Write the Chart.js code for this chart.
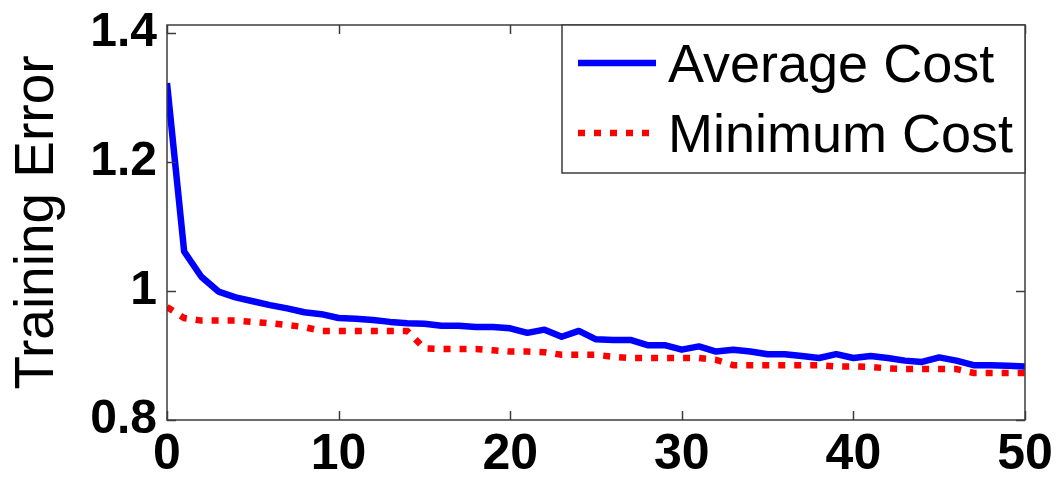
<!DOCTYPE html>
<html>
<head>
<meta charset="utf-8">
<script src="https://cdn.jsdelivr.net/npm/chart.js@4/dist/chart.umd.min.js"></script>
<style>
    html, body { margin: 0; padding: 0; background: #ffffff; }
    #wrap { width: 1057px; height: 480px; }
</style>
</head>
<body>
<div id="wrap"><canvas id="errorChart" width="1057" height="480"></canvas></div>
<script>
// データ
const epochs = [0, 1, 2, 3, 4, 5, 6, 7, 8, 9, 10, 11, 12, 13, 14, 15, 16, 17, 18, 19, 20, 21, 22, 23, 24, 25,
    26, 27, 28, 29, 30, 31, 32, 33, 34, 35, 36, 37, 38, 39, 40, 41, 42, 43, 44, 45, 46, 47, 48, 49, 50];

const averageCost = [1.322, 1.061, 1.022, 0.999, 0.990, 0.984, 0.978, 0.973, 0.967, 0.964, 0.958,
    0.957, 0.955, 0.952, 0.950, 0.949, 0.946, 0.946, 0.944, 0.944, 0.942,
    0.935, 0.940, 0.929, 0.938, 0.925, 0.924, 0.924, 0.916, 0.916, 0.909,
    0.914, 0.906, 0.909, 0.906, 0.902, 0.902, 0.899, 0.896, 0.902, 0.896,
    0.899, 0.896, 0.892, 0.890, 0.897, 0.892, 0.885, 0.885, 0.884, 0.883];

const minimumCost = [0.975, 0.958, 0.954, 0.954, 0.954, 0.952, 0.950, 0.947, 0.944, 0.938, 0.938,
    0.938, 0.938, 0.938, 0.938, 0.911, 0.910, 0.910, 0.910, 0.908, 0.906,
    0.906, 0.905, 0.901, 0.901, 0.901, 0.898, 0.896, 0.896, 0.896, 0.896,
    0.896, 0.893, 0.885, 0.885, 0.885, 0.885, 0.885, 0.885, 0.883, 0.883,
    0.882, 0.880, 0.879, 0.879, 0.879, 0.879, 0.873, 0.873, 0.873, 0.873];

const seriesNames = ['Average Cost', 'Minimum Cost'];
const yTickValues = [0.8, 1, 1.2, 1.4];
const xTickValues = [0, 10, 20, 30, 40, 50];

const FONT = "'Liberation Sans', Arial, Helvetica, sans-serif";
const AXIS_COLOR = '#3c3c3c';

// 枠線と内向きの目盛りを描く
const framePlugin = {
    id: 'frame',
    afterDatasetsDraw(chart) {
        const { ctx, chartArea: a, scales } = chart;
        const len = 9;
        ctx.save();
        ctx.strokeStyle = AXIS_COLOR;
        ctx.lineWidth = 1.5;
        ctx.strokeRect(a.left, a.top, a.right - a.left, a.bottom - a.top);
        ctx.beginPath();
        scales.x.ticks.forEach(t => {
            const px = Math.round(scales.x.getPixelForValue(t.value)) + 0.5;
            ctx.moveTo(px, a.bottom); ctx.lineTo(px, a.bottom - len);
            ctx.moveTo(px, a.top); ctx.lineTo(px, a.top + len);
        });
        scales.y.ticks.forEach(t => {
            const py = Math.round(scales.y.getPixelForValue(t.value)) + 0.5;
            ctx.moveTo(a.left, py); ctx.lineTo(a.left + len, py);
            ctx.moveTo(a.right, py); ctx.lineTo(a.right - len, py);
        });
        ctx.stroke();
        ctx.restore();
    }
};

// MATLAB風の凡例ボックス
const legendBoxPlugin = {
    id: 'legendBox',
    afterDraw(chart) {
        const { ctx, chartArea: a } = chart;
        const boxLeft = 562, boxBottom = 173;
        ctx.save();
        ctx.fillStyle = '#ffffff';
        ctx.fillRect(boxLeft, a.top, a.right - boxLeft, boxBottom - a.top);
        ctx.strokeStyle = AXIS_COLOR;
        ctx.lineWidth = 1.5;
        ctx.strokeRect(boxLeft, a.top, a.right - boxLeft, boxBottom - a.top);

        const rows = [63, 133];
        chart.data.datasets.forEach((ds, i) => {
            const y = rows[i];
            ctx.beginPath();
            ctx.strokeStyle = ds.borderColor;
            ctx.lineWidth = ds.borderWidth;
            ctx.setLineDash(ds.borderDash || []);
            ctx.moveTo(578, y);
            ctx.lineTo(656, y);
            ctx.stroke();
            ctx.setLineDash([]);
            ctx.fillStyle = '#000000';
            ctx.font = `54px ${FONT}`;
            ctx.textBaseline = 'alphabetic';
            ctx.fillText(ds.label, 668, y + 19);
        });
        ctx.restore();
    }
};

function initChart() {
    const ctx = document.getElementById('errorChart');

    new Chart(ctx, {
        type: 'line',
        data: {
            datasets: [
                {
                    label: seriesNames[0],
                    data: epochs.map((e, i) => ({ x: e, y: averageCost[i] })),
                    borderColor: '#0000ff',
                    borderWidth: 6.5,
                    pointRadius: 0,
                    tension: 0,
                    borderJoinStyle: 'round'
                },
                {
                    label: seriesNames[1],
                    data: epochs.map((e, i) => ({ x: e, y: minimumCost[i] })),
                    borderColor: '#ff0000',
                    borderWidth: 6.5,
                    borderDash: [7, 9],
                    borderCapStyle: 'butt',
                    pointRadius: 0,
                    tension: 0
                }
            ]
        },
        options: {
            responsive: false,
            animation: false,
            layout: { padding: { top: 25, right: 32, left: 0, bottom: 0 } },
            plugins: {
                legend: { display: false },
                tooltip: { enabled: false }
            },
            scales: {
                x: {
                    type: 'linear',
                    min: 0,
                    max: 50,
                    afterBuildTicks: scale => { scale.ticks = xTickValues.map(v => ({ value: v })); },
                    afterFit: scale => {
                        scale.height = 60;
                        scale.paddingLeft = 0;
                        scale.paddingRight = 0;
                    },
                    grid: { display: false, drawTicks: false },
                    border: { display: false },
                    ticks: {
                        color: '#000000',
                        padding: 5,
                        maxRotation: 0,
                        font: { family: FONT, size: 50, weight: 'bold' }
                    }
                },
                y: {
                    type: 'linear',
                    min: 0.8,
                    max: 1.412,
                    afterBuildTicks: scale => { scale.ticks = yTickValues.map(v => ({ value: v })); },
                    afterFit: scale => {
                        scale.width = 167;
                        scale.paddingTop = 0;
                        scale.paddingBottom = 0;
                    },
                    grid: { display: false, drawTicks: false },
                    border: { display: false },
                    ticks: {
                        color: '#000000',
                        padding: 10,
                        font: { family: FONT, size: 48, weight: 'bold' },
                        callback: v => (v === 1 ? '1' : v.toFixed(1))
                    },
                    title: {
                        display: true,
                        text: 'Training Error',
                        color: '#000000',
                        padding: { top: 5, bottom: 0 },
                        font: { family: FONT, size: 55 }
                    }
                }
            }
        },
        plugins: [framePlugin, legendBoxPlugin]
    });
}

document.addEventListener('DOMContentLoaded', initChart);
</script>
</body>
</html>
